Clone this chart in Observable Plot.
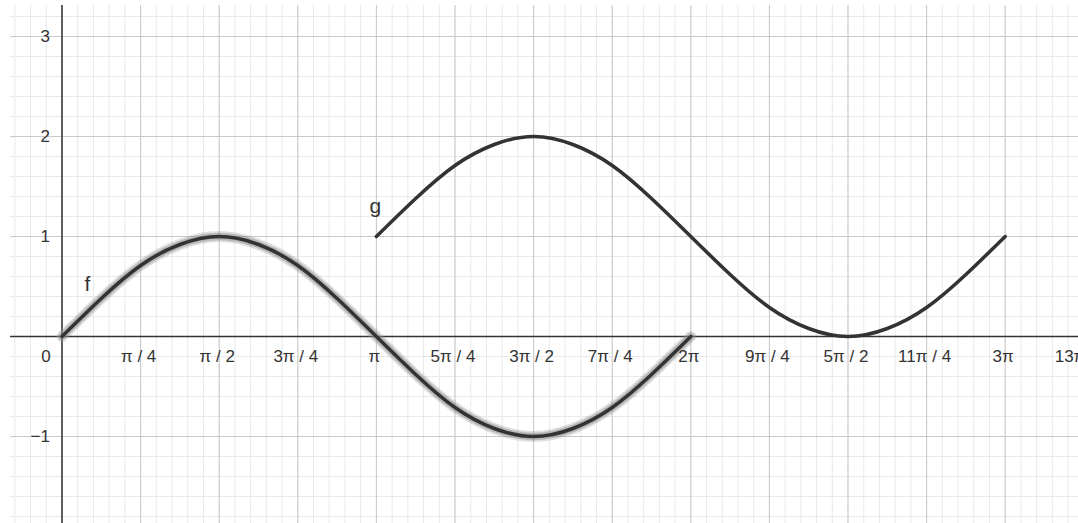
<!DOCTYPE html>
<html>
<head>
<meta charset="utf-8">
<script src="https://cdn.jsdelivr.net/npm/d3@7"></script>
<script src="https://cdn.jsdelivr.net/npm/@observablehq/plot@0.6"></script>
<style>
  html, body { margin: 0; padding: 0; background: #fff; overflow: hidden; }
  #chart svg { display: block; }
</style>
</head>
<body>
<div id="chart"></div>
<script>
// x positions are in multiples of π
const fX = [0, 0.125, 0.25, 0.375, 0.5, 0.625, 0.75, 0.875, 1, 1.125, 1.25, 1.375, 1.5, 1.625, 1.75, 1.875, 2];
const fY = [0, 0.38, 0.71, 0.92, 1, 0.92, 0.71, 0.38, 0, -0.38, -0.71, -0.92, -1, -0.92, -0.71, -0.38, 0];

const gX = [1, 1.125, 1.25, 1.375, 1.5, 1.625, 1.75, 1.875, 2, 2.125, 2.25, 2.375, 2.5, 2.625, 2.75, 2.875, 3];
const gY = [1, 1.38, 1.71, 1.92, 2, 1.92, 1.71, 1.38, 1, 0.62, 0.29, 0.08, 0, 0.08, 0.29, 0.62, 1];

const xTickValues = [0.25, 0.5, 0.75, 1, 1.25, 1.5, 1.75, 2, 2.25, 2.5, 2.75, 3, 3.25];
const xTickLabels = ["π / 4", "π / 2", "3π / 4", "π", "5π / 4", "3π / 2", "7π / 4", "2π", "9π / 4", "5π / 2", "11π / 4", "3π", "13π / 4"];

const yTickValues = [-1, 1, 2, 3];
const yTickLabels = ["−1", "1", "2", "3"];

const curveLabels = [
  {name: "f", x: 0.081, y: 0.52},
  {name: "g", x: 0.997, y: 1.30}
];

const xDomain = [-0.1638, 3.2331];
const yDomain = [-1.87, 3.31];

const fData = fX.map((x, i) => ({x, y: fY[i]}));
const gData = gX.map((x, i) => ({x, y: gY[i]}));
const xTicks = xTickValues.map((v, i) => ({v, label: xTickLabels[i]}));
const yTicks = yTickValues.map((v, i) => ({v, label: yTickLabels[i]}));

// grid lines: minor every π/20 and 0.2, major every π/4 and 1
const minorX = d3.range(-3, 66).map(k => k / 20);
const majorX = d3.range(0, 14).map(k => k / 4);
const minorY = d3.range(-9, 17).map(k => k / 5);
const majorY = d3.range(-1, 4);

const font = "'Liberation Sans', Arial, sans-serif";
const ink = "#333";

const chart = Plot.plot({
  width: 1078,
  height: 523,
  marginLeft: 10,
  marginTop: 5,
  marginRight: 0,
  marginBottom: 0,
  style: {fontFamily: font, background: "#fff", overflow: "hidden"},
  x: {domain: xDomain, axis: null},
  y: {domain: yDomain, axis: null},
  marks: [
    Plot.ruleX(minorX, {stroke: "#e9e9e9", strokeWidth: 1}),
    Plot.ruleY(minorY, {stroke: "#e9e9e9", strokeWidth: 1}),
    Plot.ruleX(majorX, {stroke: "#c9c9c9", strokeWidth: 1}),
    Plot.ruleY(majorY, {stroke: "#c9c9c9", strokeWidth: 1}),
    Plot.ruleX([0], {stroke: ink, strokeWidth: 1.5}),
    Plot.ruleY([0], {stroke: ink, strokeWidth: 1.5}),

    // highlight halo around f
    Plot.line(fData, {x: "x", y: "y", curve: "natural", stroke: "#999", strokeWidth: 11, strokeOpacity: 0.3, strokeLinecap: "round"}),
    Plot.line(fData, {x: "x", y: "y", curve: "natural", stroke: "#888", strokeWidth: 7.5, strokeOpacity: 0.45, strokeLinecap: "round"}),
    Plot.line(fData, {x: "x", y: "y", curve: "natural", stroke: ink, strokeWidth: 3.5, strokeLinecap: "round"}),
    Plot.line(gData, {x: "x", y: "y", curve: "natural", stroke: ink, strokeWidth: 3.5, strokeLinecap: "round"}),

    Plot.text(xTicks, {x: "v", y: () => 0, text: "label", dy: 20, dx: -2, fontSize: 17, fill: ink}),
    Plot.text(["0"], {x: () => 0, y: () => 0, text: d => d, dy: 20, dx: -16, fontSize: 17, fill: ink}),
    Plot.text(yTicks, {x: () => 0, y: "v", text: "label", dx: -12, textAnchor: "end", fontSize: 17, fill: ink}),

    Plot.text(curveLabels, {x: "x", y: "y", text: "name", fontSize: 21, fill: ink})
  ]
});

document.getElementById("chart").appendChild(chart);
</script>
</body>
</html>
